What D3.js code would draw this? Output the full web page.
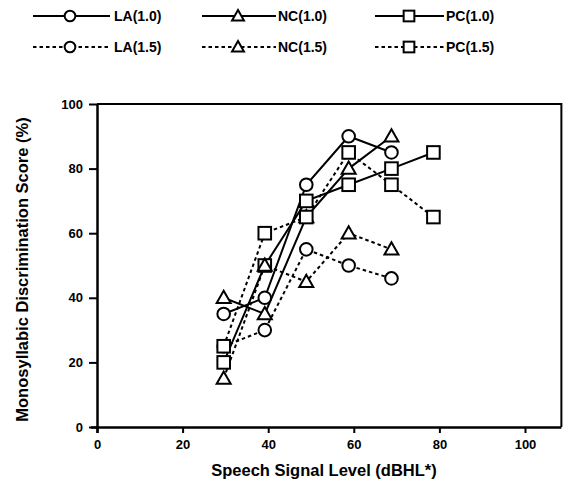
<!DOCTYPE html>
<html>
<head>
<meta charset="utf-8">
<script src="https://cdn.jsdelivr.net/npm/d3@7"></script>
<style>
  body { margin: 0; background: #fff; }
  svg { display: block; }
  text { font-family: "Liberation Sans", Arial, sans-serif; fill: #000; }
</style>
</head>
<body>
<svg id="chart" width="564" height="488"></svg>
<script>
// ---- data ----
const levels = [29.6, 39.2, 48.9, 58.8, 68.8, 78.6];
const LA10 = [35, 40, 75, 90, 85];
const LA15 = [25, 30, 55, 50, 46];
const NC10 = [40, 35, 65, 80, 90];
const NC15 = [15, 50, 45, 60, 55];
const PC10 = [20, 50, 70, 75, 80, 85];
const PC15 = [25, 60, 65, 85, 75, 65];
const xTicks = [0, 20, 40, 60, 80, 100];
const yTicks = [0, 20, 40, 60, 80, 100];
const seriesNames = ["LA(1.0)", "NC(1.0)", "PC(1.0)", "LA(1.5)", "NC(1.5)", "PC(1.5)"];

const series = [
  { name: "LA(1.0)", vals: LA10, shape: "circle", dashed: false },
  { name: "NC(1.0)", vals: NC10, shape: "triangle", dashed: false },
  { name: "PC(1.0)", vals: PC10, shape: "square", dashed: false },
  { name: "LA(1.5)", vals: LA15, shape: "circle", dashed: true },
  { name: "NC(1.5)", vals: NC15, shape: "triangle", dashed: true },
  { name: "PC(1.5)", vals: PC15, shape: "square", dashed: true }
];

const svg = d3.select("#chart");
const x = d3.scaleLinear().domain([0, 100]).range([97, 525]);
const y = d3.scaleLinear().domain([0, 100]).range([427, 104]);
const xMax = 108.5;

const dashPat = "3.5,3";

function drawMarker(g, shape, cx, cy, k) {
  k = k || 1;
  if (shape === "circle") {
    g.append("circle").attr("cx", cx).attr("cy", cy).attr("r", 6.3 * k)
      .attr("fill", "#fff").attr("stroke", "#000").attr("stroke-width", 2);
  } else if (shape === "square") {
    const h = 6.3 * k;
    g.append("rect").attr("x", cx - h).attr("y", cy - h).attr("width", 2 * h).attr("height", 2 * h)
      .attr("fill", "#fff").attr("stroke", "#000").attr("stroke-width", 2);
  } else {
    const s = 7 * k;
    g.append("path").attr("d", `M${cx},${cy - s} L${cx + s},${cy + s * 0.75} L${cx - s},${cy + s * 0.75} Z`)
      .attr("fill", "#fff").attr("stroke", "#000").attr("stroke-width", 2);
  }
}

// frame (top and right)
svg.append("path")
  .attr("d", `M${x(0)},${y(100)} L${x(xMax)},${y(100)} L${x(xMax)},${y(0)}`)
  .attr("fill", "none").attr("stroke", "#000").attr("stroke-width", 2);

// axes
const xAxis = d3.axisBottom(x).tickValues(xTicks).tickSize(6).tickPadding(7).tickFormat(d3.format("d"));
const gx = svg.append("g").attr("transform", `translate(0,${y(0)})`).call(xAxis);
gx.select(".domain").attr("d", `M${x(0) - 6},0.5H${x(xMax)}`).attr("stroke-width", 2.5);
gx.selectAll(".tick line").attr("stroke-width", 2);
gx.selectAll(".tick text").attr("font-size", 13).attr("font-weight", "bold");

const yAxis = d3.axisLeft(y).tickValues(yTicks).tickSize(8).tickPadding(6);
const gy = svg.append("g").attr("transform", `translate(${x(0)},0)`).call(yAxis);
gy.select(".domain").attr("d", `M0.5,${y(100)}V${y(0) + 6}`).attr("stroke-width", 2.5);
gy.selectAll(".tick line").attr("stroke-width", 2);
gy.selectAll(".tick text").attr("font-size", 13).attr("font-weight", "bold");

// axis titles
svg.append("text").attr("x", 324).attr("y", 476).attr("text-anchor", "middle")
  .attr("font-size", 16.5).attr("font-weight", "bold").text("Speech Signal Level (dBHL*)");
svg.append("text").attr("transform", `translate(28,${(y(0) + y(100)) / 2 + 4}) rotate(-90)`)
  .attr("text-anchor", "middle").attr("font-size", 16.5).attr("font-weight", "bold")
  .text("Monosyllabic Discrimination Score (%)");

// lines
const line = d3.line().x(d => x(d[0])).y(d => y(d[1]));
series.forEach(s => {
  const pts = s.vals.map((v, i) => [levels[i], v]);
  svg.append("path").datum(pts).attr("d", line)
    .attr("fill", "none").attr("stroke", "#000").attr("stroke-width", 2)
    .attr("stroke-dasharray", s.dashed ? dashPat : null);
});
// markers
const mg = svg.append("g");
series.forEach(s => {
  s.vals.forEach((v, i) => drawMarker(mg, s.shape, x(levels[i]), y(v)));
});

// legend
const legCols = [
  { x0: 33, x1: 110, mx: 70, tx: 114 },
  { x0: 202, x1: 276, mx: 238, tx: 278 },
  { x0: 375, x1: 444, mx: 409, tx: 446 }
];
const legRows = [16, 47];
series.forEach((s, k) => {
  const c = legCols[k % 3];
  const ry = legRows[Math.floor(k / 3)];
  const lg = svg.append("g");
  lg.append("line").attr("x1", c.x0).attr("x2", c.x1).attr("y1", ry).attr("y2", ry)
    .attr("stroke", "#000").attr("stroke-width", 2)
    .attr("stroke-dasharray", s.dashed ? dashPat : null);
  drawMarker(lg, s.shape, c.mx, ry, 0.85);
  lg.append("text").attr("x", c.tx).attr("y", ry + 5).attr("font-size", 14).attr("font-weight", "bold")
    .text(seriesNames[k]);
});
</script>
</body>
</html>
